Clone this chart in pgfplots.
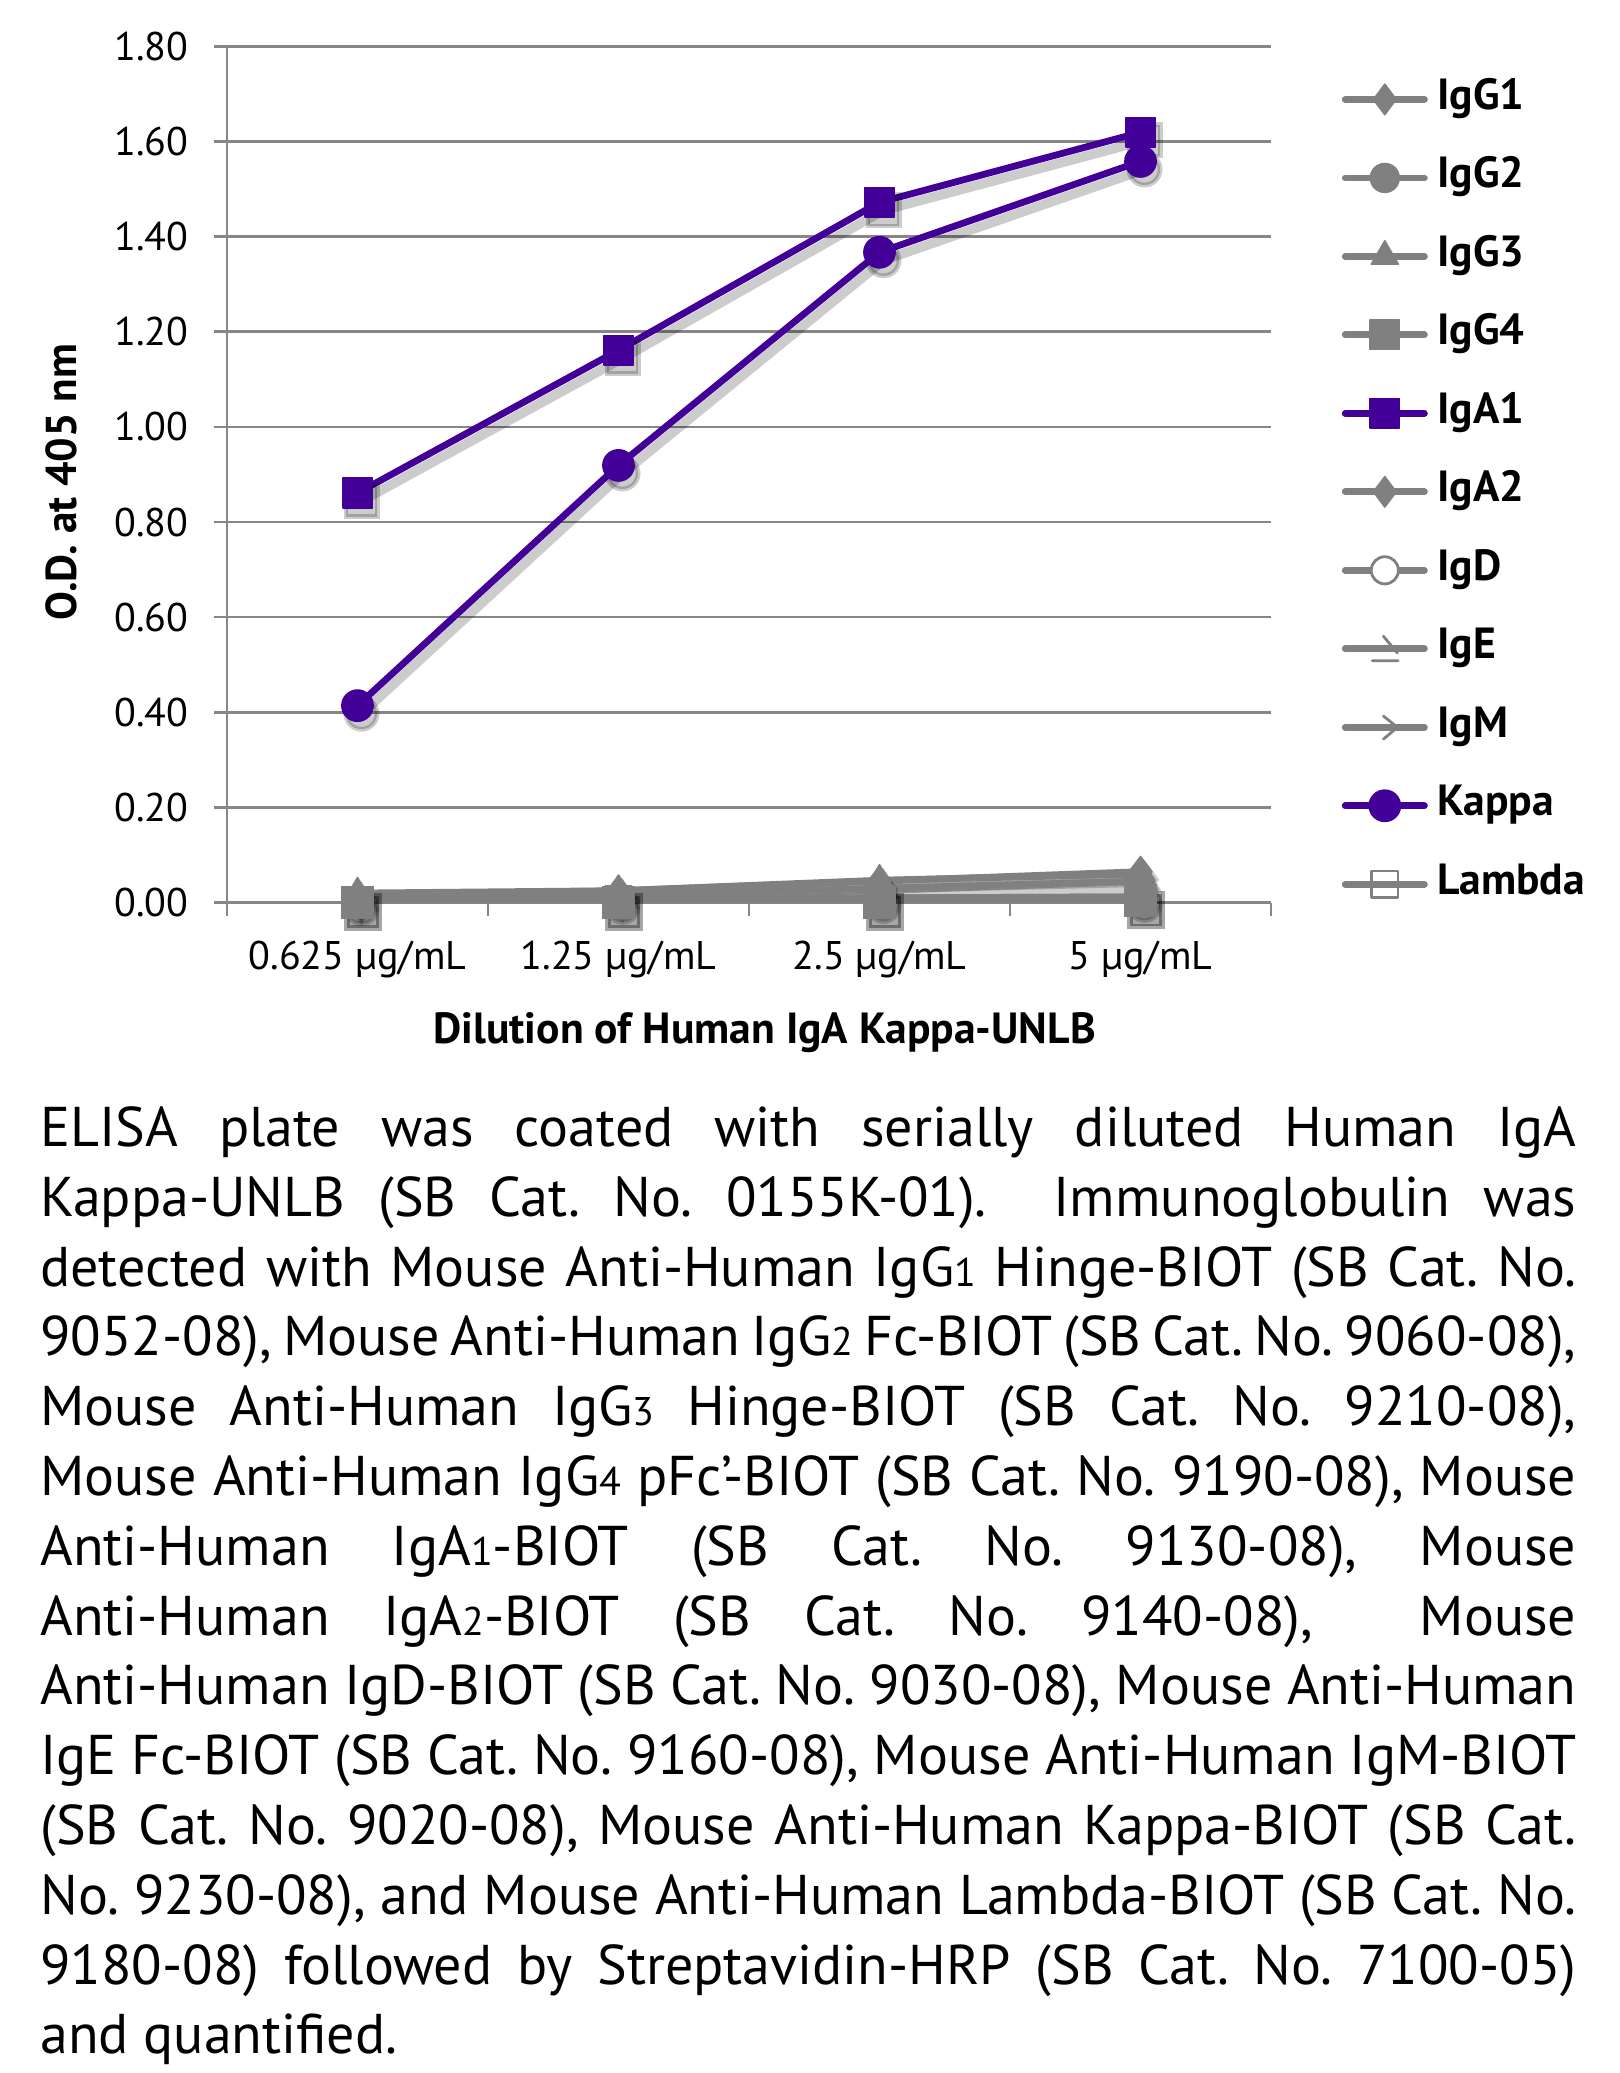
\documentclass[border=0pt]{standalone}
\usepackage{fontspec}
\setmainfont{PT Sans}
\usepackage{pgfplots}
\pgfplotsset{compat=1.18}
\usepackage{pgfplotstable}

\definecolor{pur}{RGB}{66,0,153}
\definecolor{gr}{RGB}{128,128,128}
\definecolor{gridc}{RGB}{134,134,134}

\pgfdeclareplotmark{ige}{%
  \pgfpathmoveto{\pgfqpoint{-0.1\pgfplotmarksize}{0.9\pgfplotmarksize}}%
  \pgfpathlineto{\pgfqpoint{0.9\pgfplotmarksize}{-0.3\pgfplotmarksize}}%
  \pgfpathmoveto{\pgfqpoint{-0.9\pgfplotmarksize}{-0.85\pgfplotmarksize}}%
  \pgfpathlineto{\pgfqpoint{0.95\pgfplotmarksize}{-0.85\pgfplotmarksize}}%
  \pgfusepathqstroke}
\pgfdeclareplotmark{igm}{%
  \pgfpathmoveto{\pgfqpoint{-0.1\pgfplotmarksize}{0.8\pgfplotmarksize}}%
  \pgfpathlineto{\pgfqpoint{0.9\pgfplotmarksize}{0pt}}%
  \pgfpathlineto{\pgfqpoint{-0.1\pgfplotmarksize}{-0.85\pgfplotmarksize}}%
  \pgfusepathqstroke}

\pgfplotstableread{
x IgGa IgGb IgGc IgGd IgAa IgAb IgD IgE IgM Kappa Lambda
0 0.010 0.005 0.020 0.000 0.861 0.015 0.006 0.004 0.005 0.414 0.004
1 0.015 0.008 0.025 0.000 1.161 0.025 0.008 0.006 0.007 0.919 0.006
2 0.030 0.010 0.047 0.001 1.472 0.045 0.010 0.008 0.009 1.367 0.008
3 0.045 0.012 0.060 0.004 1.619 0.065 0.012 0.010 0.011 1.558 0.010
}\datatab

\newcommand\sub[1]{{\fontsize{10pt}{10pt}\selectfont #1}}
\newcommand\capline[1]{\hbox to 384pt{#1}}

\pgfplotsset{
  shadow/.style={forget plot, draw=black, opacity=0.2, xshift=1pt, yshift=-2pt,
    line width=2.4pt, mark=#1, mark size=3.9pt,
    mark options={fill=black, draw=black, line width=1.2pt, solid}},
  ser/.style={line width=1.7pt, line cap=round, line join=round},
}

\begin{document}
\frenchspacing
\begin{tikzpicture}[x=1pt,y=1pt]
\path[use as bounding box] (0,0) rectangle (404.75,-518.25);
\begin{axis}[
  at={(56.75pt,-225.65pt)}, anchor=south west,
  width=261pt, height=214.075pt, scale only axis,
  xmin=-0.5, xmax=3.5, ymin=0, ymax=1.8,
  axis x line*=bottom, axis y line*=left,
  axis line style={draw=gridc, line width=0.65pt},
  ytick={0,0.2,0.4,0.6,0.8,1.0,1.2,1.4,1.6,1.8},
  ymajorgrids, grid style={draw=gridc, line width=0.65pt},
  tick align=outside, major tick length=3.3pt,
  tick style={draw=gridc, line width=0.65pt},
  /pgf/number format/assume math mode=true,
  yticklabel style={/pgf/number format/.cd, fixed, fixed zerofill, precision=2, /tikz/.cd,
    font=\fontsize{10pt}{11pt}\selectfont, anchor=east, inner sep=0pt, xshift=-6.2pt},
  xtick={-0.5,0.5,1.5,2.5,3.5}, xticklabels={},
  extra x ticks={0,1,2,3},
  extra x tick labels={0.625 µg/mL, 1.25 µg/mL, 2.5 µg/mL, 5 µg/mL},
  extra x tick style={major tick length=0pt},
  xticklabel style={font=\fontsize{10pt}{11pt}\selectfont, anchor=base, inner sep=0pt, yshift=-16.6pt},
  xlabel={Dilution of Human IgA Kappa-UNLB},
  xlabel style={at={(axis description cs:0.515,-0.165)}, anchor=base, inner sep=0pt,
    font=\bfseries\fontsize{10.9pt}{12pt}\selectfont},
  ylabel={O.D. at 405 nm},
  ylabel style={at={(axis description cs:-0.159,0.491)}, anchor=center, inner sep=0pt,
    font=\bfseries\fontsize{10.8pt}{12pt}\selectfont},
  legend style={at={(axis description cs:1.06705,0.9613)}, anchor=north west,
    draw=none, fill=none, inner sep=0pt, row sep=10.02pt, column sep=2.4pt,
    font=\bfseries\fontsize{10.9pt}{12pt}\selectfont,
    nodes={inner sep=0pt, text height=7.3pt, text depth=2.3pt}},
  legend cell align=left,
  legend image code/.code={\draw[mark repeat=2,mark phase=2] plot coordinates {(0.85pt,0pt) (10.75pt,0pt) (20.65pt,0pt)};},
]
% shadows
\addplot[shadow=diamond*] table[x=x,y=IgGa]{\datatab};
\addplot[shadow=*] table[x=x,y=IgGb]{\datatab};
\addplot[shadow=triangle*] table[x=x,y=IgGc]{\datatab};
\addplot[shadow=square*] table[x=x,y=IgAa]{\datatab};
\addplot[shadow=diamond*] table[x=x,y=IgAb]{\datatab};
\addplot[shadow=*] table[x=x,y=Kappa]{\datatab};
% series
\addplot[ser, gr, mark=diamond*, mark size=3.8pt, mark options={fill=gr, line width=0.4pt}] table[x=x,y=IgGa]{\datatab};
\addlegendentry{IgG1}
\addplot[ser, gr, mark=*, mark size=3.6pt, mark options={fill=gr, line width=0.4pt}] table[x=x,y=IgGb]{\datatab};
\addlegendentry{IgG2}
\addplot[ser, gr, mark=triangle*, mark size=3.9pt, mark options={fill=gr, line width=0.4pt}] table[x=x,y=IgGc]{\datatab};
\addlegendentry{IgG3}
\addplot[ser, gr, mark=square*, mark size=3.7pt, mark options={fill=gr, line width=0.4pt}] table[x=x,y=IgGd]{\datatab};
\addlegendentry{IgG4}
\addplot[ser, pur, mark=square*, mark size=3.7pt, mark options={fill=pur, line width=0.4pt}] table[x=x,y=IgAa]{\datatab};
\addlegendentry{IgA1}
\addplot[ser, gr, mark=diamond*, mark size=3.8pt, mark options={fill=gr, line width=0.4pt}] table[x=x,y=IgAb]{\datatab};
\addlegendentry{IgA2}
\addplot[ser, gr, mark=*, mark size=3.4pt, mark options={fill=white, draw=gr, line width=0.7pt}] table[x=x,y=IgD]{\datatab};
\addlegendentry{IgD}
\addplot[ser, gr, mark=ige, mark size=3.5pt, mark options={line width=0.7pt}] table[x=x,y=IgE]{\datatab};
\addlegendentry{IgE}
\addplot[ser, gr, mark=igm, mark size=3.5pt, mark options={line width=0.7pt}] table[x=x,y=IgM]{\datatab};
\addlegendentry{IgM}
\addplot[ser, pur, mark=*, mark size=3.9pt, mark options={fill=pur, line width=0.4pt}] table[x=x,y=Kappa]{\datatab};
\addlegendentry{Kappa}
\addplot[ser, gr, mark=square, mark size=3.3pt, mark options={line width=0.7pt}] table[x=x,y=Lambda]{\datatab};
\addlegendentry{Lambda}
% bottom squares drawn on top with their dark shadows
\addplot[forget plot, only marks, mark=square*, mark size=4pt, draw=black, fill=black, opacity=0.35, xshift=1.3pt, yshift=-2.4pt, mark options={line width=1.4pt}] table[x=x,y=IgGd]{\datatab};
\addplot[forget plot, only marks, gr, mark=square*, mark size=3.9pt, mark options={fill=gr, line width=0.4pt}] table[x=x,y=IgGd]{\datatab};
\end{axis}
\node[anchor=base west, inner sep=0pt, font=\fontsize{14pt}{17.45pt}\selectfont] at (9.9pt,-286.6pt) {\vtop{\hsize=384pt\baselineskip=17.45pt\lineskiplimit=-20pt
\capline{ELISA plate was coated with serially diluted Human IgA}
\capline{Kappa-UNLB (SB Cat. No. 0155K-01).\ \ Immunoglobulin was}
\capline{detected with Mouse Anti-Human IgG\sub{1} Hinge-BIOT (SB Cat. No.}
\capline{9052-08), Mouse Anti-Human IgG\sub{2} Fc-BIOT (SB Cat. No. 9060-08),}
\capline{Mouse Anti-Human IgG\sub{3} Hinge-BIOT (SB Cat. No. 9210-08),}
\capline{Mouse Anti-Human IgG\sub{4} pFc’-BIOT (SB Cat. No. 9190-08), Mouse}
\capline{Anti-Human IgA\sub{1}-BIOT (SB Cat. No. 9130-08), Mouse}
\capline{Anti-Human IgA\sub{2}-BIOT (SB Cat. No. 9140-08),\ \ Mouse}
\capline{Anti-Human IgD-BIOT (SB Cat. No. 9030-08), Mouse Anti-Human}
\capline{IgE Fc-BIOT (SB Cat. No. 9160-08), Mouse Anti-Human IgM-BIOT}
\capline{(SB Cat. No. 9020-08), Mouse Anti-Human Kappa-BIOT (SB Cat.}
\capline{No. 9230-08), and Mouse Anti-Human Lambda-BIOT (SB Cat. No.}
\capline{9180-08) followed by Streptavidin-HRP (SB Cat. No. 7100-05)}
\hbox{and quantified.}}};
\end{tikzpicture}
\end{document}
